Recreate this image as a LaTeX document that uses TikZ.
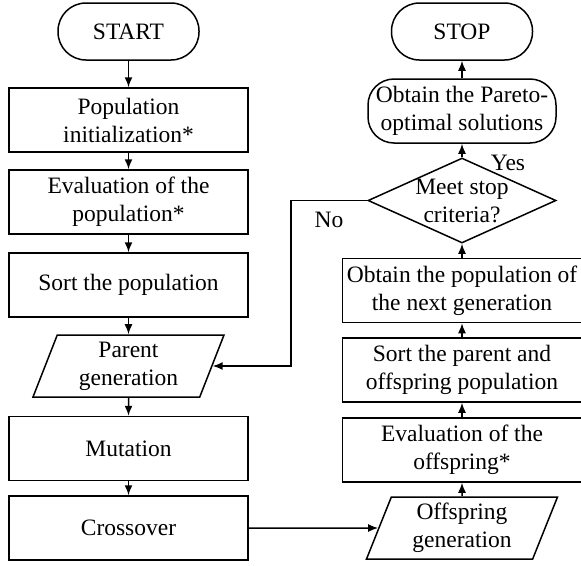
\documentclass[tikz,border=0pt]{standalone}
\usepackage{fontspec}
\setmainfont{Liberation Serif}
\usetikzlibrary{shapes.geometric,arrows.meta}

\tikzset{
    box/.style={draw, rectangle, minimum width=239pt, minimum height=64pt, align=center, inner sep=0pt},
    term/.style={draw, rectangle, rounded corners=28pt, minimum width=141pt, minimum height=57pt},
    io/.style={draw, trapezium, trapezium left angle=63.4, trapezium right angle=116.6, trapezium stretches body, minimum width=191pt, minimum height=62pt, align=center, inner sep=0pt},
    decision/.style={draw, diamond, aspect=2.2, minimum width=188pt, minimum height=85pt, inner sep=-12pt, align=center},
    arrow/.style={-{Latex[length=10pt,width=8pt]}}
}

\begin{document}
\begin{tikzpicture}[x=1pt, y=-1pt, line width=1.5pt, font=\fontsize{23.5}{28}\selectfont]
        \useasboundingbox (0,0) rectangle (581,565);

        %Left column
        \node[term] (start) at (128.5,31.5) {START};
        \node[box] (init) at (128.5,120) {Population\\initialization*};
        \node[box] (evalpop) at (128.5,202) {Evaluation of the\\population*};
        \node[box] (sortpop) at (128.5,285) {Sort the population};
        \node[io] (parent) at (128.5,366) {Parent\\generation};
        \node[box] (mutation) at (128.5,448.5) {Mutation};
        \node[box] (crossover) at (128.5,528) {Crossover};

        %Right column
        \node[term] (stop) at (462,31.5) {STOP};
        \node[term, rounded corners=26pt, minimum width=188pt, minimum height=64pt, align=center, inner sep=0pt] (pareto) at (462,111) {Obtain the Pareto-\\optimal solutions};
        \node[decision] (meet) at (462,200.5) {Meet stop\\criteria?};
        \node[box] (nextgen) at (462,290.5) {Obtain the population of\\the next generation};
        \node[box] (sortpo) at (462,370) {Sort the parent and\\offspring population};
        \node[box] (evaloff) at (462,450) {Evaluation of the\\offspring*};
        \node[io] (offspring) at (462,528) {Offspring\\generation};

        \node (yes) at (508,163) {Yes};
        \node (no) at (329,220) {No};
        \coordinate (bend) at (291,200.5);

        %Arrows down the left and up the right
        \foreach \a/\b in {start/init, init/evalpop, evalpop/sortpop, sortpop/parent, parent/mutation, mutation/crossover, offspring/evaloff, evaloff/sortpo, sortpo/nextgen, nextgen/meet, meet/pareto, pareto/stop}
            \draw[arrow] (\a) -- (\b);
        \draw[arrow] (crossover) -- (offspring);
        \draw[arrow] (meet.west) -- (bend) |- (parent.east);
    \end{tikzpicture}
\end{document}
